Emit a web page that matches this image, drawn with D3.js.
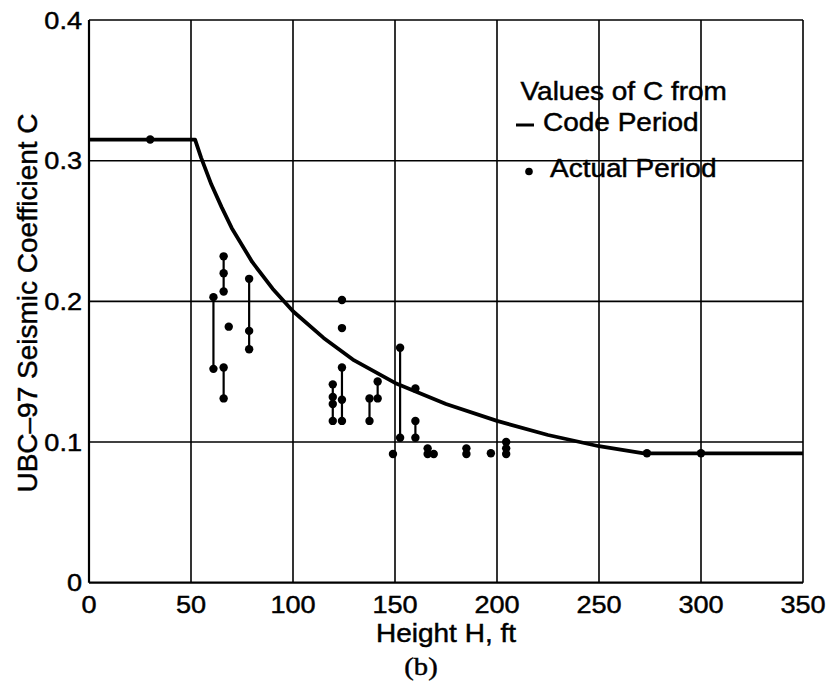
<!DOCTYPE html>
<html>
<head>
<meta charset="utf-8">
<script src="https://cdn.jsdelivr.net/npm/d3@7"></script>
<style>
  body { margin: 0; background: #fff; }
  svg { display: block; }
  text { font-family: "Liberation Sans", Arial, sans-serif; fill: #000; stroke: #000; stroke-width: 0.45px; }
</style>
</head>
<body>
<svg id="chart" width="831" height="687"></svg>
<script>
// Code period curve
const codeH = [0, 52, 55, 60, 65, 70, 80, 90, 100, 115, 130, 150, 175, 200, 225, 250, 272, 350];
const codeC = [0.315, 0.315, 0.302, 0.283, 0.267, 0.252, 0.228, 0.209, 0.193, 0.174, 0.158, 0.142, 0.127, 0.115, 0.105, 0.097, 0.092, 0.092];

// Actual period points
const actualH = [30, 61, 61, 66, 66, 66, 66, 66, 68.5, 78.5, 78.5, 78.5,
  119.5, 119.5, 119.5, 119.5, 124, 124, 124, 124, 124, 137.5, 137.5, 141.5, 141.5,
  149, 152.5, 152.5, 160, 160, 160, 166, 166, 169, 185, 185, 197, 204.5, 204.5, 204.5, 273.5, 300];
const actualC = [0.315, 0.203, 0.152, 0.232, 0.220, 0.207, 0.153, 0.131, 0.182, 0.216, 0.179, 0.166,
  0.141, 0.132, 0.127, 0.115, 0.201, 0.181, 0.153, 0.130, 0.115, 0.131, 0.115, 0.143, 0.131,
  0.0915, 0.167, 0.103, 0.138, 0.115, 0.103, 0.0955, 0.0915, 0.0915, 0.0955, 0.0915, 0.092, 0.100, 0.0955, 0.0915, 0.092, 0.092];

// vertical lines joining points of the same building
const rangeH  = [61, 66, 66, 78.5, 119.5, 124, 137.5, 141.5, 152.5, 160, 166, 185, 204.5];
const rangeLo = [0.152, 0.207, 0.131, 0.166, 0.115, 0.115, 0.115, 0.131, 0.103, 0.103, 0.0915, 0.0915, 0.0915];
const rangeHi = [0.203, 0.232, 0.153, 0.216, 0.141, 0.153, 0.131, 0.143, 0.167, 0.115, 0.0955, 0.0955, 0.100];

const xTicks = [0, 50, 100, 150, 200, 250, 300, 350];
const yTicks = [0, 0.1, 0.2, 0.3, 0.4];
const yTickLabels = ["0", "0.1", "0.2", "0.3", "0.4"];

const svg = d3.select("#chart");
const x = d3.scaleLinear().domain([0, 350]).range([89, 803]);
const y = d3.scaleLinear().domain([0, 0.4]).range([582.7, 20]);

// text helper, glyphs in the scan are a bit wide
function label(tx, ty, str, size, anchor, sx, family) {
  const t = svg.append("text")
    .attr("transform", `translate(${tx},${ty}) scale(${sx},1)`)
    .attr("text-anchor", anchor)
    .attr("font-size", size)
    .text(str);
  if (family) t.style("font-family", family);
  return t;
}

// grid
svg.append("g").selectAll("line")
  .data(xTicks)
  .enter().append("line")
  .attr("x1", d => x(d)).attr("x2", d => x(d))
  .attr("y1", y(0)).attr("y2", y(0.4))
  .attr("stroke", "#000")
  .attr("stroke-width", d => d === 0 ? 2.2 : 1.6);

svg.append("g").selectAll("line")
  .data(yTicks)
  .enter().append("line")
  .attr("x1", x(0)).attr("x2", x(350))
  .attr("y1", d => y(d)).attr("y2", d => y(d))
  .attr("stroke", "#000")
  .attr("stroke-width", d => d === 0 ? 2.2 : 1.6);

// tick labels
xTicks.forEach(d => label(x(d), 613, d, 24, "middle", 1.13));
yTicks.forEach((d, i) => label(82, y(d) + 8.5, yTickLabels[i], 24, "end", 1.13));

// axis titles
label(446, 642, "Height H, ft", 25, "middle", 1.12);
label(421, 675, "(b)", 26, "middle", 1.1, "'Liberation Serif', 'Times New Roman', serif");
svg.append("text")
  .attr("transform", "translate(36.5,303) rotate(-90)")
  .attr("text-anchor", "middle")
  .attr("font-size", 28)
  .text("UBC\u201397 Seismic Coefficient C");

// code period curve
const codePts = codeH.map((h, i) => [h, codeC[i]]);
svg.append("path")
  .datum(codePts)
  .attr("fill", "none")
  .attr("stroke", "#000")
  .attr("stroke-width", 3.8)
  .attr("stroke-linejoin", "round")
  .attr("d", d3.line().x(d => x(d[0])).y(d => y(d[1])));

// range lines
svg.append("g").selectAll("line")
  .data(rangeH)
  .enter().append("line")
  .attr("x1", d => x(d)).attr("x2", d => x(d))
  .attr("y1", (d, i) => y(rangeLo[i]))
  .attr("y2", (d, i) => y(rangeHi[i]))
  .attr("stroke", "#000")
  .attr("stroke-width", 2.2);

// actual period dots
svg.append("g").selectAll("circle")
  .data(actualH)
  .enter().append("circle")
  .attr("cx", d => x(d))
  .attr("cy", (d, i) => y(actualC[i]))
  .attr("r", 4.2)
  .attr("fill", "#000");

// legend
label(520.5, 100, "Values of C from", 25, "start", 1.12);
svg.append("line")
  .attr("x1", 516).attr("x2", 534)
  .attr("y1", 125).attr("y2", 125)
  .attr("stroke", "#000").attr("stroke-width", 3);
label(543, 131, "Code Period", 25, "start", 1.12);
svg.append("circle")
  .attr("cx", 529).attr("cy", 171.5).attr("r", 3.8).attr("fill", "#000");
label(550, 176.5, "Actual Period", 25, "start", 1.12);
</script>
</body>
</html>
